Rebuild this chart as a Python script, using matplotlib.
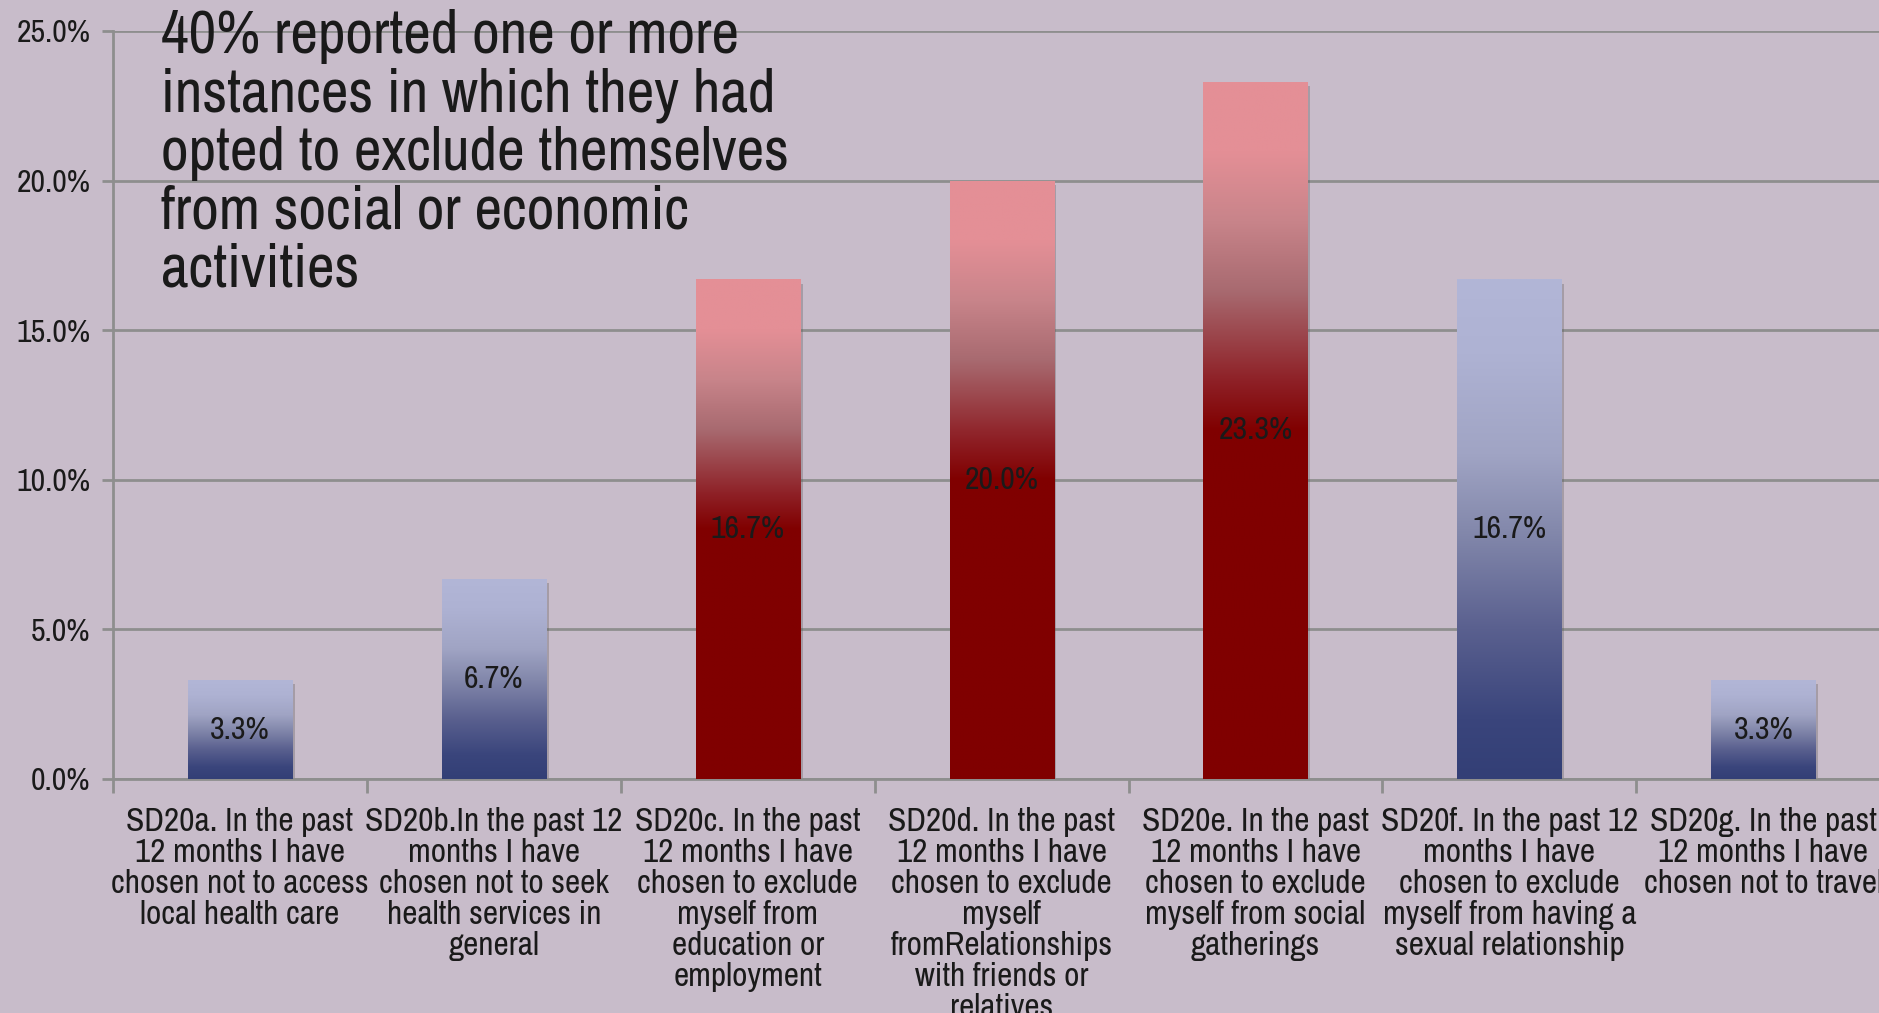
import numpy as np
import matplotlib
matplotlib.use("Agg")
import matplotlib.pyplot as plt
from matplotlib.colors import LinearSegmentedColormap
from matplotlib.ticker import FuncFormatter, FixedLocator
import matplotlib.patheffects as pe

plt.rcParams['font.family'] = ['Archivo Narrow', 'Liberation Sans', 'DejaVu Sans']

# data
categories = [
    "SD20a. In the past\n12 months I have\nchosen not to access\nlocal health care",
    "SD20b.In the past 12\nmonths I have\nchosen not to seek\nhealth services in\ngeneral",
    "SD20c. In the past\n12 months I have\nchosen to exclude\nmyself from\neducation or\nemployment",
    "SD20d. In the past\n12 months I have\nchosen to exclude\nmyself\nfromRelationships\nwith friends or\nrelatives",
    "SD20e. In the past\n12 months I have\nchosen to exclude\nmyself from social\ngatherings",
    "SD20f. In the past 12\nmonths I have\nchosen to exclude\nmyself from having a\nsexual relationship",
    "SD20g. In the past\n12 months I have\nchosen not to travel",
]
values = [3.3, 6.7, 16.7, 20.0, 23.3, 16.7, 3.3]
bar_style = ["blue", "blue", "red", "red", "red", "blue", "blue"]
annotation = ("40% reported one or more\ninstances in which they had\n"
              "opted to exclude themselves\nfrom social or economic\nactivities")

bg = "#C8BCCA"
grid_col = "#8E8E8E"

blue_cmap = LinearSegmentedColormap.from_list("bl", [
    (0.0, "#333F76"), (0.12, "#3A457C"), (0.3, "#5A608F"), (0.5, "#8489AC"),
    (0.65, "#A0A4C4"), (0.85, "#AEB2D3"), (1.0, "#B2B6D7")])
red_cmap = LinearSegmentedColormap.from_list("rd", [
    (0.0, "#800000"), (0.5, "#800000"), (0.57, "#8E2026"), (0.7, "#A86A70"),
    (0.8, "#C8848A"), (0.9, "#E48F96"), (1.0, "#E48F96")])

fig = plt.figure(figsize=(18.79, 10.13), dpi=100, facecolor=bg)
ax = fig.add_axes([0.0601, 0.231, 0.9459, 0.7384], facecolor=bg)

x = np.arange(len(values))

# grid
ax.set_axisbelow(True)
ax.yaxis.grid(True, color=grid_col, linewidth=2.0)
for s in ["top", "right"]:
    ax.spines[s].set_visible(False)
for s in ["left", "bottom"]:
    ax.spines[s].set_color(grid_col)
    ax.spines[s].set_linewidth(2.0)

bars = ax.bar(x, values, width=0.41, color="#555555", zorder=2,
              path_effects=[pe.SimplePatchShadow(offset=(2, -3), shadow_rgbFace="#555555", alpha=0.3),
                            pe.Normal()])

grad = np.linspace(0, 1, 256).reshape(-1, 1)
for b, v, style in zip(bars, values, bar_style):
    x0 = b.get_x()
    w = b.get_width()
    cmap = red_cmap if style == "red" else blue_cmap
    im = ax.imshow(grad, cmap=cmap, origin="lower", aspect="auto",
                   extent=[x0, x0 + w, 0, v], zorder=3, interpolation="bilinear")
    im.set_clip_path(b)
    ax.text(x0 + w / 2, v / 2, f"{v:.1f}%", ha="center", va="center",
            fontsize=23, color="#1a1a1a", zorder=4)

ax.set_xlim(-0.5, len(values) - 0.5)
ax.set_ylim(0, 25)

# ticks
ax.yaxis.set_major_locator(FixedLocator([0, 5, 10, 15, 20, 25]))
ax.yaxis.set_major_formatter(FuncFormatter(lambda v, p: f"{v:.1f}%"))
ax.tick_params(axis="y", labelsize=23, length=8, width=2, color=grid_col, pad=8, labelcolor="#1a1a1a")
ax.set_xticks(np.arange(-0.5, len(values) - 0.5, 1))
ax.set_xticklabels([])
ax.set_xticks(x, minor=True)
ax.set_xticklabels(categories, minor=True)
ax.tick_params(axis="x", which="major", length=10, width=2, color=grid_col)
ax.tick_params(axis="x", which="minor", length=0, labelsize=24, pad=20, labelcolor="#1a1a1a")
for lbl in ax.get_xticklabels(minor=True):
    lbl.set_linespacing(1.04)

ax.text(0.027, 1.029, annotation, transform=ax.transAxes, ha="left", va="top",
        fontsize=43.5, color="#1a1a1a", linespacing=1.07, zorder=5)

fig.savefig("out.png", dpi=100, facecolor=bg)
